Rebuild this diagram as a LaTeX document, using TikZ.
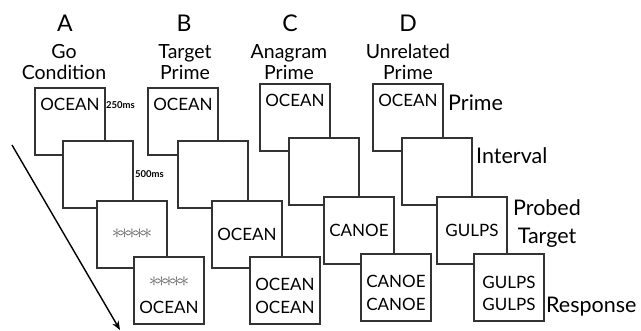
\documentclass[tikz,border=0pt]{standalone}
\usepackage{fontspec}
\setmainfont{Lato}
\usetikzlibrary{calc,arrows.meta}
\begin{document}
\begin{tikzpicture}[x=1pt,y=-1pt,
  frame/.style={draw=black!80, line width=1.1pt, fill=white, minimum width=70pt, minimum height=67pt, anchor=north west, inner sep=0pt, outer sep=0pt},
  word/.style={font=\fontsize{17}{18}\selectfont, inner sep=0pt},
  stars/.style={font=\fontsize{21}{21}\selectfont, text=black!60, inner sep=0pt},
  head/.style={font=\fontsize{23}{25}\selectfont, inner sep=0pt},
  cond/.style={font=\fontsize{19.5}{21}\selectfont, inner sep=0pt, align=center},
  side/.style={font=\fontsize{21.5}{28}\selectfont, inner sep=0pt},
  timing/.style={font=\bfseries\fontsize{9.5}{11}\selectfont, inner sep=0pt, anchor=base west}]
\useasboundingbox (0,0) rectangle (641,330);
\newcommand\starrow{$\mathord{\ast}\mkern-2.5mu\mathord{\ast}\mkern-2.5mu\mathord{\ast}\mkern-2.5mu\mathord{\ast}\mkern-2.5mu\mathord{\ast}$}

% headers
\node[head] (hA) at (65,23.5) {A};
\node[head] (hB) at (184,23.5) {B};
\node[head] (hC) at (290,23.5) {C};
\node[head] (hD) at (408,23.5) {D};
\node[cond] (cA) at (64,62) {Go\\Condition};
\node[cond] (cB) at (185,62) {Target\\Prime};
\node[cond] (cC) at (289,62) {Anagram\\Prime};
\node[cond] (cD) at (408,62) {Unrelated\\Prime};

% column A
\node[frame] (a1) at (35,88) {};
\node[word] (a1t) at ($(a1.north)+(0,16)$) {OCEAN};
\node[frame] (a2) at (63,141) {};
\node[frame] (a3) at (97,201) {};
\node[stars] (a3t) at ($(a3.center)+(0,-1)$) {\starrow};
\node[frame] (a4) at (134,257) {};
\node[stars] (a4s) at ($(a4.north)+(0,25)$) {\starrow};
\node[word] (a4t) at ($(a4.north)+(0,50)$) {OCEAN};
\node[timing] (t250) at (106,108) {250ms};
\node[timing] (t500) at (135,177) {500ms};

% column B
\node[frame] (b1) at (148,88) {};
\node[word] (b1t) at ($(b1.north)+(0,16)$) {OCEAN};
\node[frame] (b2) at (178,141) {};
\node[frame] (b3) at (212,201) {};
\node[word] (b3t) at (b3.center) {OCEAN};
\node[frame] (b4) at (250,257) {};
\node[word] (b4a) at ($(b4.north)+(0,27)$) {OCEAN};
\node[word] (b4b) at ($(b4.north)+(0,50)$) {OCEAN};

% column C
\node[frame] (c1) at (260,84) {};
\node[word] (c1t) at ($(c1.north)+(0,16)$) {OCEAN};
\node[frame] (c2) at (289,138) {};
\node[frame] (c3) at (324,197) {};
\node[word] (c3t) at (c3.center) {CANOE};
\node[frame] (c4) at (361,254) {};
\node[word] (c4a) at ($(c4.north)+(0,27)$) {CANOE};
\node[word] (c4b) at ($(c4.north)+(0,50)$) {CANOE};

% column D
\node[frame] (d1) at (373,84) {};
\node[word] (d1t) at ($(d1.north)+(0,16)$) {OCEAN};
\node[frame] (d2) at (402,138) {};
\node[frame] (d3) at (437,197) {};
\node[word] (d3t) at (d3.center) {GULPS};
\node[frame] (d4) at (474,254) {};
\node[word] (d4a) at ($(d4.north)+(0,28)$) {GULPS};
\node[word] (d4b) at ($(d4.north)+(0,50)$) {GULPS};

% side labels
\node[side, anchor=base west] (sP) at (448,110) {Prime};
\node[side, anchor=base west] (sI) at (476,163) {Interval};
\node[side, align=center] (sT) at (547,224) {Probed\\Target};
\node[side, anchor=base west] (sR) at (546,312) {Response};

% time arrow
\coordinate (arrS) at (12,145);
\coordinate (arrE) at (120,330);
\draw[line width=1.4pt, -{Stealth[length=9pt,width=7pt]}] (arrS) -- (arrE);
\end{tikzpicture}
\end{document}
